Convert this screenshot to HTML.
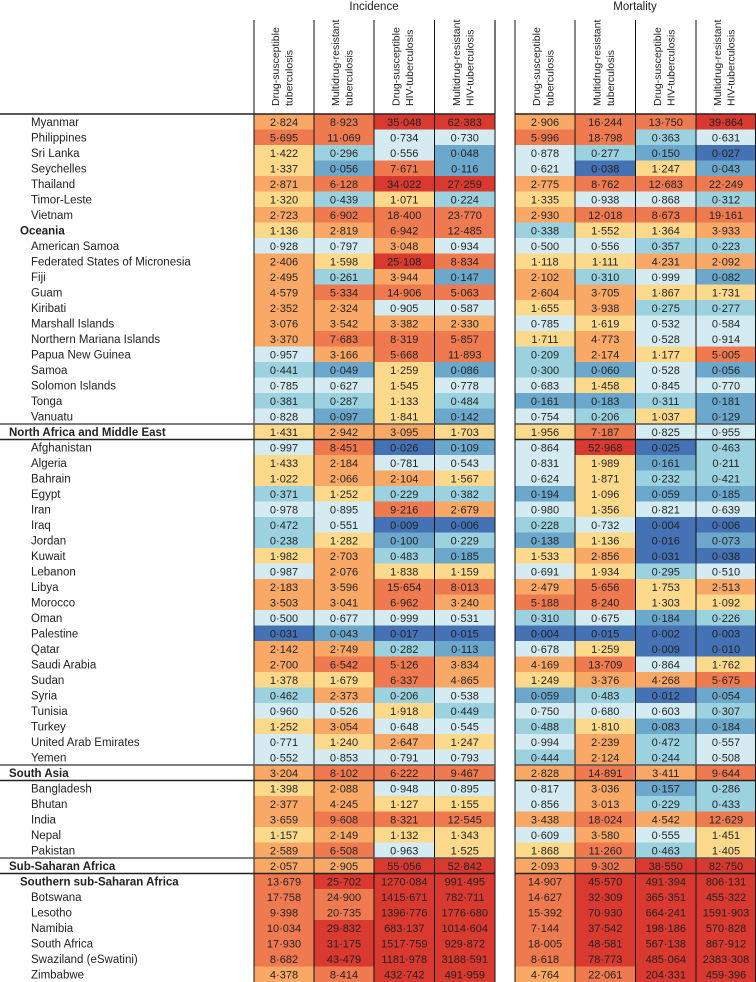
<!DOCTYPE html>
<html><head><meta charset="utf-8">
<style>
body{margin:0;background:#fff;}
svg{display:block;font-family:"Liberation Sans",sans-serif;}
</style></head>
<body>
<svg id="chart" width="756" height="982" viewBox="0 0 756 982" xmlns="http://www.w3.org/2000/svg"></svg>
<script>
const rowNames = ["Myanmar","Philippines","Sri Lanka","Seychelles","Thailand","Timor-Leste","Vietnam","Oceania","American Samoa","Federated States of Micronesia","Fiji","Guam","Kiribati","Marshall Islands","Northern Mariana Islands","Papua New Guinea","Samoa","Solomon Islands","Tonga","Vanuatu","North Africa and Middle East","Afghanistan","Algeria","Bahrain","Egypt","Iran","Iraq","Jordan","Kuwait","Lebanon","Libya","Morocco","Oman","Palestine","Qatar","Saudi Arabia","Sudan","Syria","Tunisia","Turkey","United Arab Emirates","Yemen","South Asia","Bangladesh","Bhutan","India","Nepal","Pakistan","Sub-Saharan Africa","Southern sub-Saharan Africa","Botswana","Lesotho","Namibia","South Africa","Swaziland (eSwatini)","Zimbabwe"];
const rowLevels = ["c","c","c","c","c","c","c","r","c","c","c","c","c","c","c","c","c","c","c","c","s","c","c","c","c","c","c","c","c","c","c","c","c","c","c","c","c","c","c","c","c","c","s","c","c","c","c","c","s","r","c","c","c","c","c","c"];
const columnLabels = [["Drug-susceptible","tuberculosis"],["Multidrug-resistant","tuberculosis"],["Drug-susceptible","HIV-tuberculosis"],["Multidrug-resistant","HIV-tuberculosis"],["Drug-susceptible","tuberculosis"],["Multidrug-resistant","tuberculosis"],["Drug-susceptible","HIV-tuberculosis"],["Multidrug-resistant","HIV-tuberculosis"]];
const incDS = [2.824,5.695,1.422,1.337,2.871,1.320,2.723,1.136,0.928,2.406,2.495,4.579,2.352,3.076,3.370,0.957,0.441,0.785,0.381,0.828,1.431,0.997,1.433,1.022,0.371,0.978,0.472,0.238,1.982,0.987,2.183,3.503,0.500,0.031,2.142,2.700,1.378,0.462,0.960,1.252,0.771,0.552,3.204,1.398,2.377,3.659,1.157,2.589,2.057,13.679,17.758,9.398,10.034,17.930,8.682,4.378];
const incMDR = [8.923,11.069,0.296,0.056,6.128,0.439,6.902,2.819,0.797,1.598,0.261,5.334,2.324,3.542,7.683,3.166,0.049,0.627,0.287,0.097,2.942,8.451,2.184,2.066,1.252,0.895,0.551,1.282,2.703,2.076,3.596,3.041,0.677,0.043,2.749,6.542,1.679,2.373,0.526,3.054,1.240,0.853,8.102,2.088,4.245,9.608,2.149,6.508,2.905,25.702,24.900,20.735,29.832,31.175,43.479,8.414];
const incHIV = [35.048,0.734,0.556,7.671,34.022,1.071,18.400,6.942,3.048,25.108,3.944,14.906,0.905,3.382,8.319,5.668,1.259,1.545,1.133,1.841,3.095,0.026,0.781,2.104,0.229,9.216,0.009,0.100,0.483,1.838,15.654,6.962,0.999,0.017,0.282,5.126,6.337,0.206,1.918,0.648,2.647,0.791,6.222,0.948,1.127,8.321,1.132,0.963,55.056,1270.084,1415.671,1396.776,683.137,1517.759,1181.978,432.742];
const incMDRHIV = [62.383,0.730,0.048,0.116,27.259,0.224,23.770,12.485,0.934,8.834,0.147,5.063,0.587,2.330,5.857,11.893,0.086,0.778,0.484,0.142,1.703,0.109,0.543,1.567,0.382,2.679,0.006,0.229,0.185,1.159,8.013,3.240,0.531,0.015,0.113,3.834,4.865,0.538,0.449,0.545,1.247,0.793,9.467,0.895,1.155,12.545,1.343,1.525,52.842,991.495,782.711,1776.680,1014.604,929.872,3188.591,491.959];
const morDS = [2.906,5.996,0.878,0.621,2.775,1.335,2.930,0.338,0.500,1.118,2.102,2.604,1.655,0.785,1.711,0.209,0.300,0.683,0.161,0.754,1.956,0.864,0.831,0.624,0.194,0.980,0.228,0.138,1.533,0.691,2.479,5.188,0.310,0.004,0.678,4.169,1.249,0.059,0.750,0.488,0.994,0.444,2.828,0.817,0.856,3.438,0.609,1.868,2.093,14.907,14.627,15.392,7.144,18.005,8.618,4.764];
const morMDR = [16.244,18.798,0.277,0.038,8.762,0.938,12.018,1.552,0.556,1.111,0.310,3.705,3.938,1.619,4.773,2.174,0.060,1.458,0.183,0.206,7.187,52.968,1.989,1.871,1.096,1.356,0.732,1.136,2.856,1.934,5.656,8.240,0.675,0.015,1.259,13.709,3.376,0.483,0.680,1.810,2.239,2.124,14.891,3.036,3.013,18.024,3.580,11.260,9.302,45.570,32.309,70.930,37.542,48.581,78.773,22.061];
const morHIV = [13.750,0.363,0.150,1.247,12.683,0.868,8.673,1.364,0.357,4.231,0.999,1.867,0.275,0.532,0.528,1.177,0.528,0.845,0.311,1.037,0.825,0.025,0.161,0.232,0.059,0.821,0.004,0.016,0.031,0.295,1.753,1.303,0.184,0.002,0.009,0.864,4.268,0.012,0.603,0.083,0.472,0.244,3.411,0.157,0.229,4.542,0.555,0.463,38.550,491.394,365.351,664.241,198.186,567.138,485.064,204.331];
const morMDRHIV = [39.864,0.631,0.027,0.043,22.249,0.312,19.161,3.933,0.223,2.092,0.082,1.731,0.277,0.584,0.914,5.005,0.056,0.770,0.181,0.129,0.955,0.463,0.211,0.421,0.185,0.639,0.006,0.073,0.038,0.510,2.513,1.092,0.226,0.003,0.010,1.762,5.675,0.054,0.307,0.184,0.557,0.508,9.644,0.286,0.433,12.629,1.451,1.405,82.750,806.131,455.322,1591.903,570.828,867.912,2383.308,459.396];
const series = [incDS,incMDR,incHIV,incMDRHIV,morDS,morMDR,morHIV,morMDRHIV];
const seriesNames = ["incidence-ds","incidence-mdr","incidence-ds-hiv","incidence-mdr-hiv","mortality-ds","mortality-mdr","mortality-ds-hiv","mortality-mdr-hiv"];

const NS="http://www.w3.org/2000/svg";
const svg=document.getElementById('chart');
const colX=[254,314,374,434.5,515,575,635.5,696];
const colW=[60,60,60.5,60.5,60,60.5,60.5,60];
const top0=114, rowH=15.5;
function yOf(i){return top0+i*rowH;}
function colorOf(v){
  if(v<0.04) return "#4472b4";
  if(v<0.2) return "#6ba8cb";
  if(v<0.5) return "#9cd2e0";
  if(v<1) return "#d4ecf1";
  if(v<2) return "#fdd98c";
  if(v<5) return "#f9a866";
  if(v<25) return "#ef7a50";
  return "#d9392f";
}
function fmt(v){return v.toFixed(3).replace('.','\u00b7');}
function mk(tag,attrs,parent){const e=document.createElementNS(NS,tag);for(const k in attrs)e.setAttribute(k,attrs[k]);(parent||svg).appendChild(e);return e;}

let t=mk('text',{x:374,y:10,'text-anchor':'middle','font-size':11.5,fill:'#222'});


t.textContent='Incidence';
t=mk('text',{x:635,y:10,'text-anchor':'middle','font-size':11.5,fill:'#222'});


t.textContent='Mortality';

for(let c=0;c<8;c++){
  const cx=colX[c]+colW[c]/2;
  const g=mk('text',{transform:`translate(${cx-2},106) rotate(-90)`,'font-size':10.5,fill:'#222'});
  
  
  const s1=mk('tspan',{x:0,y:-3},g);s1.textContent=columnLabels[c][0];
  const s2=mk('tspan',{x:0,y:10.5},g);s2.textContent=columnLabels[c][1];
}
[254,314,374,434.5,515,575,635.5,696].forEach(x=>{
  const l=mk('line',{x1:x,x2:x,y1:20,y2:114,stroke:'#111','stroke-width':1});
  
  
});
let l=mk('line',{x1:495,x2:495,y1:20,y2:114,stroke:'#777','stroke-width':2});



for(let c=0;c<8;c++){
  const vals=series[c];
  for(let i=0;i<vals.length;i++){
    const r=mk('rect',{x:colX[c],y:yOf(i),width:colW[c],height:rowH+0.3,fill:colorOf(vals[i])});
    
    
    const tx=mk('text',{x:colX[c]+colW[c]/2,y:yOf(i)+12,'text-anchor':'middle','font-size':11,fill:'#222'});
    
    
    tx.textContent=fmt(vals[i]);
  }
}
for(let i=0;i<rowNames.length;i++){
  const lv=rowLevels[i];
  const x=lv==='s'?9:(lv==='r'?20:31);
  const tx=mk('text',{x:x,y:yOf(i)+12,'font-size':11.5,fill:'#222','font-weight':lv==='c'?'normal':'bold'});
  
  
  tx.textContent=rowNames[i];
}
const bottom=yOf(rowNames.length);
[254,314,374,434.5,495,515,575,635.5,696,755.5].forEach(x=>{
  const ln=mk('line',{x1:x,x2:x,y1:top0,y2:bottom,stroke:'#111','stroke-width':1});
  
  
});
function hline(y,w,col){
  [[0,495],[515,756]].forEach(([a,b])=>{
    const ln=mk('line',{x1:a,x2:b,y1:y,y2:y,stroke:col,'stroke-width':w});
    
    
  });
}
hline(top0,1.5,'#222');
for(let i=0;i<rowNames.length;i++){
  if(rowLevels[i]==='s'){hline(yOf(i),1.5,'#555');hline(yOf(i+1),1.5,'#222');}
}
</script>
</body></html>
